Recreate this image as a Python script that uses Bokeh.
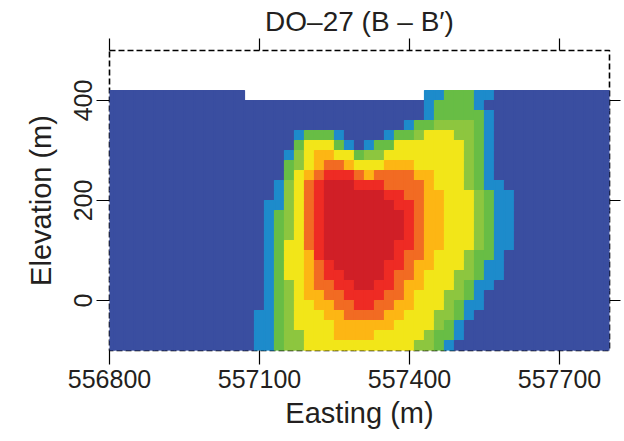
from bokeh.plotting import figure
from bokeh.models import ColumnDataSource, LinearAxis, FixedTicker, Range1d, BasicTickFormatter
from bokeh.embed import file_html
from bokeh.resources import INLINE

# ---------------- data ----------------
title_text = "DO\u201327 (B \u2013 B\u2032)"
x_label = "Easting (m)"
y_label = "Elevation (m)"
x_ticks = [556800, 557100, 557400, 557700]
y_ticks = [0, 200, 400]
x_limits = [556800, 557800]
y_limits = [-100, 500]

cell_size = 20            # model block size (m)
first_easting = 556800    # centre of first block column
top_elevation = 410       # centre of top block row

# class colours: 0 background ... 8 highest
class_colors = ["#3A4EA0", "#1D8BCB", "#68BD45", "#8DC63F", "#F2E619",
                "#FDB614", "#F26B23", "#EE2B24", "#D01F27"]

# block classes per row (top row first), run-length coded "class:count", "." = no data
rows_rle = [
    "0:14 .:18 1:2 2:3 1:2 0:12",
    "0:32 1:1 2:4 1:1 0:13",
    "0:32 1:1 2:5 1:1 0:12",
    "0:30 1:1 2:2 3:4 2:1 1:1 0:12",
    "0:19 1:1 2:3 1:1 0:4 1:1 2:2 3:1 4:3 3:2 2:1 1:1 0:12",
    "0:19 2:1 4:3 2:1 1:1 0:1 1:1 2:2 4:7 3:1 2:1 1:1 0:12",
    "0:18 1:1 3:1 4:1 5:2 4:2 2:1 3:2 4:8 3:1 2:1 1:1 0:12",
    "0:18 2:1 3:1 4:1 5:1 6:2 5:1 4:3 5:3 4:5 3:1 2:1 1:1 0:12",
    "0:18 2:1 4:1 5:1 6:1 7:3 6:1 5:1 6:4 5:2 4:3 3:1 2:1 1:1 0:12",
    "0:17 1:1 3:1 4:1 6:1 7:1 8:3 7:3 6:4 5:1 4:3 3:1 2:1 1:2 0:11",
    "0:17 1:1 3:1 4:1 6:1 7:1 8:6 7:2 6:2 5:2 4:3 3:1 2:1 1:2 0:10",
    "0:16 1:2 3:1 4:1 6:1 7:1 8:7 7:2 6:1 5:2 4:3 3:1 2:1 1:2 0:10",
    "0:16 1:1 2:1 3:1 4:1 6:1 7:1 8:8 7:1 6:1 5:2 4:3 3:1 2:1 1:2 0:10",
    "0:16 1:1 2:1 3:1 4:1 6:1 7:1 8:8 7:1 6:1 5:2 4:3 3:1 2:1 1:2 0:10",
    "0:16 1:1 2:1 3:1 4:1 6:1 7:1 8:8 7:1 6:1 5:2 4:3 3:1 2:1 1:2 0:10",
    "0:16 1:1 2:1 4:2 6:1 7:1 8:7 7:2 6:1 5:2 4:3 3:1 2:1 1:2 0:10",
    "0:16 1:1 2:1 4:2 5:1 7:1 8:7 7:1 6:2 5:1 4:3 3:1 2:2 1:1 0:11",
    "0:16 1:1 2:1 4:2 5:1 6:1 7:1 8:5 7:2 6:1 5:2 4:3 3:1 2:1 1:2 0:11",
    "0:16 1:1 2:1 4:2 5:1 6:1 7:2 8:4 7:1 6:2 5:1 4:3 3:2 2:1 1:2 0:11",
    "0:16 1:1 2:1 3:1 4:1 5:1 6:2 7:2 8:2 7:2 6:1 5:2 4:3 3:1 2:1 1:2 0:12",
    "0:16 1:1 2:1 3:1 4:1 5:2 6:2 7:4 6:2 5:1 4:3 3:2 2:1 1:1 0:13",
    "0:16 1:1 2:1 3:1 4:2 5:2 6:2 7:2 6:2 5:2 4:3 3:1 2:1 1:2 0:13",
    "0:15 1:2 2:1 3:1 4:3 5:2 6:4 5:2 4:3 3:2 2:1 1:1 0:14",
    "0:15 1:2 2:1 3:1 4:4 5:6 4:4 3:1 2:1 1:1 0:15",
    "0:15 1:2 2:1 3:2 4:3 5:4 4:5 3:1 2:2 1:1 0:15",
    "0:15 1:2 2:1 3:2 4:11 3:2 2:1 1:1 0:16",
]

# ---------------- build blocks ----------------
left, right, bottom, top, colors = [], [], [], [], []
for r, rle in enumerate(rows_rle):
    cells = []
    for tok in rle.split():
        c, n = tok.split(":")
        cells.extend([c] * int(n))
    if len(cells) != 51:
        raise ValueError("row %d has %d cells" % (r, len(cells)))
    z = top_elevation - cell_size * r
    for k, c in enumerate(cells):
        if c == ".":
            continue
        e = first_easting + cell_size * k
        left.append(e - cell_size / 2)
        right.append(e + cell_size / 2)
        bottom.append(z - cell_size / 2)
        top.append(z + cell_size / 2)
        colors.append(class_colors[int(c)])

src = ColumnDataSource(dict(left=left, right=right, bottom=bottom, top=top, color=colors))

FONT = "Liberation Sans"
TXT = "#231F20"

p = figure(frame_width=500, frame_height=300,
           min_border_left=109, min_border_right=15,
           min_border_top=50, min_border_bottom=91,
           x_range=Range1d(*x_limits), y_range=Range1d(*y_limits),
           x_axis_location=None, y_axis_location=None,
           output_backend="svg", toolbar_location=None, tools="")

p.quad(left="left", right="right", bottom="bottom", top="top",
       fill_color="color", line_color="color", line_width=1.2, source=src)

p.xgrid.visible = False
p.ygrid.visible = False
p.background_fill_color = "white"
p.border_fill_color = "white"
p.outline_line_color = "black"
p.outline_line_width = 1.6
p.outline_line_dash = "6 3"

p.title.text = title_text
p.title.align = "center"
p.title.text_font = FONT
p.title.text_font_size = "28px"
p.title.text_font_style = "normal"
p.title.text_color = TXT
p.title.standoff = 4

bottom_axis = LinearAxis(ticker=FixedTicker(ticks=x_ticks),
                         formatter=BasicTickFormatter(use_scientific=False))
left_axis = LinearAxis(ticker=FixedTicker(ticks=y_ticks))
top_axis = LinearAxis(ticker=FixedTicker(ticks=x_ticks))
right_axis = LinearAxis(ticker=FixedTicker(ticks=y_ticks))
p.add_layout(bottom_axis, "below")
p.add_layout(left_axis, "left")
p.add_layout(top_axis, "above")
p.add_layout(right_axis, "right")

for ax in [bottom_axis, left_axis, top_axis, right_axis]:
    ax.axis_line_color = None
    ax.major_tick_line_color = "black"
    ax.major_tick_line_width = 1.2
    ax.minor_tick_line_color = None
    ax.major_tick_in = 0
    ax.major_label_text_font = FONT
    ax.major_label_text_color = TXT
    ax.axis_label_text_font = FONT
    ax.axis_label_text_color = TXT
    ax.axis_label_text_font_style = "normal"

bottom_axis.major_tick_out = 14
bottom_axis.major_label_text_font_size = "25px"
bottom_axis.major_label_standoff = 5
bottom_axis.axis_label = x_label
bottom_axis.axis_label_text_font_size = "29px"
bottom_axis.axis_label_standoff = 6

left_axis.major_tick_out = 13
left_axis.major_label_orientation = "vertical"
left_axis.major_label_text_font_size = "25px"
left_axis.major_label_standoff = 5
left_axis.axis_label = y_label
left_axis.axis_label_text_font_size = "29px"
left_axis.axis_label_standoff = 14

for ax, n in [(top_axis, 12), (right_axis, 11)]:
    ax.major_tick_out = n
    ax.major_label_text_font_size = "1px"
    ax.major_label_text_alpha = 0
    ax.major_label_standoff = 0

open("out.html", "w").write(file_html(p, INLINE))
